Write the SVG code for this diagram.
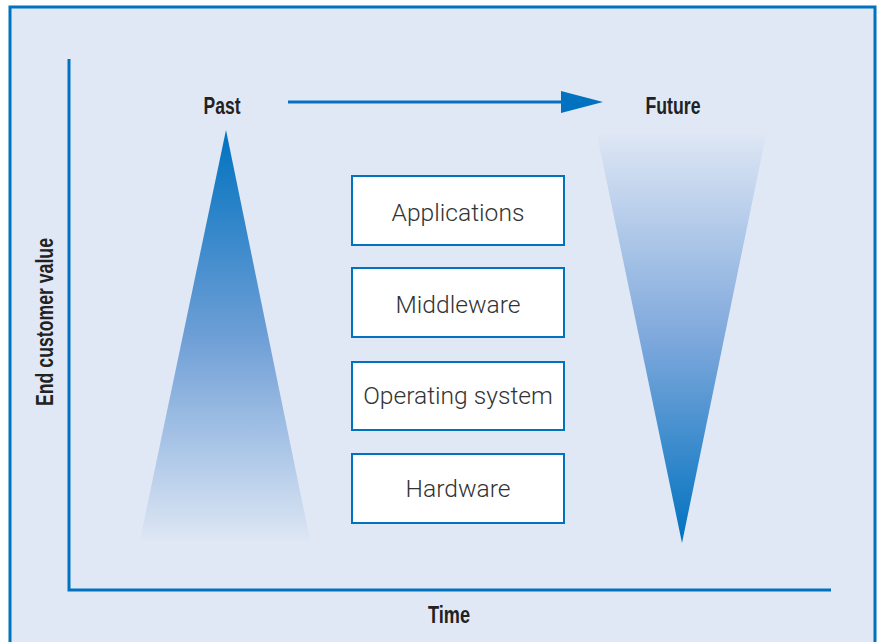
<svg xmlns="http://www.w3.org/2000/svg" width="880" height="642" viewBox="0 0 880 642">
  <defs>
    <linearGradient id="gradUp" x1="0" y1="0" x2="0" y2="1">
      <stop offset="0" stop-color="#0072bf"/>
      <stop offset="0.5" stop-color="#6d9ed6"/>
      <stop offset="1" stop-color="#dde6f4"/>
    </linearGradient>
    <linearGradient id="gradDown" x1="0" y1="0" x2="0" y2="1">
      <stop offset="0" stop-color="#dde6f4"/>
      <stop offset="0.5" stop-color="#7ea8dc"/>
      <stop offset="1" stop-color="#0072bf"/>
    </linearGradient>
    <marker id="arrowHead" viewBox="0 0 42 22" refX="0" refY="11" markerWidth="42" markerHeight="22" markerUnits="userSpaceOnUse" orient="auto">
      <path d="M0,0 L42,11 L0,22 Z" fill="#0072bf"/>
    </marker>
    <style>
      .frame { fill: #e1e8f5; stroke: #0072bf; stroke-width: 3; }
      .axis { stroke: #0072bf; stroke-width: 3; fill: none; }
      .box { fill: #ffffff; stroke: #0072bf; stroke-width: 2; }
      .boxText { font-family: Roboto, "Liberation Sans", Arial, sans-serif; font-weight: 300; font-size: 24.6px; fill: #333333; text-anchor: middle; }
      .label { font-family: "Liberation Sans", Arial, sans-serif; font-weight: bold; font-size: 24px; fill: #222222; text-anchor: middle; }
    </style>
  </defs>

  <!-- background panel -->
  <rect class="frame" x="10" y="7" width="865" height="650"/>

  <!-- axes -->
  <g id="axes">
    <path class="axis" d="M69,59 L69,590 L831,590"/>
  </g>

  <!-- value wedges -->
  <g id="past-wedge">
    <polygon points="226,130 310,540 140,540" fill="url(#gradUp)"/>
  </g>
  <g id="future-wedge">
    <polygon points="597,135 766,135 682,543" fill="url(#gradDown)"/>
  </g>

  <!-- labels (condensed bold) -->
  <g id="label-past"><text class="label" x="222" y="114" textLength="37" lengthAdjust="spacingAndGlyphs">Past</text></g>
  <g id="label-future"><text class="label" x="673" y="114" textLength="55" lengthAdjust="spacingAndGlyphs">Future</text></g>
  <g id="label-time"><text class="label" x="449" y="623" textLength="42" lengthAdjust="spacingAndGlyphs">Time</text></g>
  <g id="label-value"><text class="label" transform="translate(53,322) rotate(-90)" textLength="168" lengthAdjust="spacingAndGlyphs">End customer value</text></g>

  <!-- stack layers -->
  <g id="applications">
    <rect class="box" x="352" y="176" width="212" height="69"/>
    <text class="boxText" x="458" y="221">Applications</text>
  </g>
  <g id="middleware">
    <rect class="box" x="352" y="268" width="212" height="69"/>
    <text class="boxText" x="458" y="313">Middleware</text>
  </g>
  <g id="operating-system">
    <rect class="box" x="352" y="362" width="212" height="68"/>
    <text class="boxText" x="458" y="404">Operating system</text>
  </g>
  <g id="hardware">
    <rect class="box" x="352" y="454" width="212" height="69"/>
    <text class="boxText" x="458" y="497">Hardware</text>
  </g>

  <!-- connectors -->
  <g id="connectors">
    <line x1="288" y1="102" x2="561" y2="102" stroke="#0072bf" stroke-width="3" marker-end="url(#arrowHead)"/>
  </g>
</svg>
